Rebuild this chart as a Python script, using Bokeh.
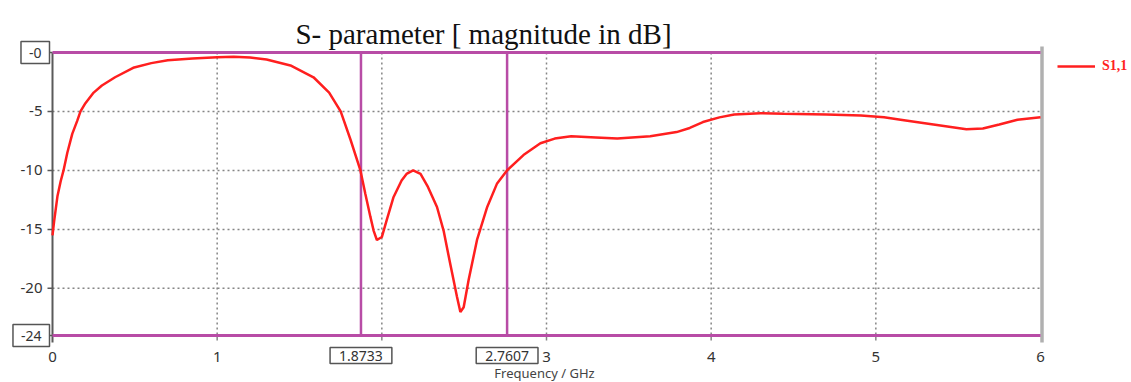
from bokeh.plotting import figure
from bokeh.models import Label, Legend, LegendItem, ColumnDataSource, Range1d
from bokeh.embed import file_html
from bokeh.resources import INLINE

# ---------------- data ----------------
freq = [0, 0.01, 0.03, 0.05, 0.067, 0.09, 0.12, 0.15, 0.17, 0.2, 0.25, 0.3, 0.38, 0.49,
        0.6, 0.7, 0.85, 1.0, 1.1, 1.2, 1.3, 1.445, 1.585, 1.68, 1.75, 1.81, 1.87, 1.90,
        1.93, 1.95, 1.97, 2.0, 2.03, 2.07, 2.12, 2.15, 2.19, 2.235, 2.28, 2.335, 2.375,
        2.415, 2.456, 2.477, 2.497, 2.527, 2.578, 2.64, 2.70, 2.76, 2.86, 2.963, 3.05,
        3.15, 3.3, 3.43, 3.63, 3.79, 3.87, 3.95, 4.05, 4.14, 4.3, 4.44, 4.7, 4.91, 5.05,
        5.15, 5.35, 5.55, 5.65, 5.75, 5.86, 6.0]
s11_db = [-15.5, -14.3, -12.2, -10.9, -10.0, -8.5, -6.9, -5.8, -5.0, -4.3, -3.4, -2.8,
          -2.1, -1.3, -0.9, -0.65, -0.5, -0.4, -0.35, -0.42, -0.6, -1.1, -2.1, -3.4,
          -5.0, -7.4, -10.0, -12.0, -13.9, -15.1, -15.9, -15.65, -14.2, -12.3, -10.85,
          -10.3, -10.0, -10.3, -11.4, -13.1, -15.1, -17.9, -20.7, -22.0, -21.6, -19.3,
          -15.9, -13.1, -11.1, -10.0, -8.7, -7.7, -7.3, -7.1, -7.2, -7.3, -7.1, -6.75,
          -6.4, -5.9, -5.5, -5.25, -5.15, -5.2, -5.25, -5.35, -5.5, -5.7, -6.1, -6.5,
          -6.45, -6.1, -5.7, -5.5]
marker_freqs = [1.8733, 2.7607]
marker_labels = ["1.8733", "2.7607"]
y_bounds = [0, -24]
y_bound_labels = ["-0", "-24"]
y_ticks = [-5, -10, -15, -20]
y_tick_labels = ["-5", "-10", "-15", "-20"]
x_ticks = [0, 1, 3, 4, 5, 6]
x_tick_labels = ["0", "1", "3", "4", "5", "6"]
grid_x = [1, 2, 3, 4, 5]
x_lim = [0, 6]
series_name = "S1,1"
title_text = "S- parameter [ magnitude in dB]"
x_title = "Frequency / GHz"

# ---------------- layout (pixels) ----------------
W, H = 1131, 382
PX_L, PX_R = 52, 1040      # pixel columns of x = 0 and x = 6
PY_T, PY_B = 52, 335       # pixel rows of y = 0 and y = -24
kx = (x_lim[1] - x_lim[0]) / (PX_R - PX_L)
ky = (y_bounds[0] - y_bounds[1]) / (PY_B - PY_T)

PURPLE = "#b84ca6"
RED = "#ff1f1f"
GRID = "#858585"
AXIS = "#5a5a5a"
TXT = "#333333"
TICK_FONT = "Noto Sans"

p = figure(width=W, height=H,
           x_range=Range1d(x_lim[0] - PX_L * kx, x_lim[1] + (W - PX_R) * kx),
           y_range=Range1d(y_bounds[1] - (H - PY_B) * ky, y_bounds[0] + PY_T * ky),
           x_axis_type=None, y_axis_type=None, min_border=0,
           output_backend="svg", toolbar_location=None)
p.outline_line_color = None
p.background_fill_color = "white"
p.border_fill_color = "white"
p.grid.visible = False

# grid (dotted)
p.segment(x0=grid_x, x1=grid_x, y0=[y_bounds[0]] * len(grid_x), y1=[y_bounds[1]] * len(grid_x),
          line_color=GRID, line_dash="2 3", line_width=1.5)
p.segment(x0=[x_lim[0]] * len(y_ticks), x1=[x_lim[1]] * len(y_ticks), y0=y_ticks, y1=y_ticks,
          line_color=GRID, line_dash="2 3", line_width=1.5)

# tick marks
all_y = y_bounds + y_ticks
p.segment(x0=[x_lim[0]] * len(all_y), x1=[x_lim[0] - 5 * kx] * len(all_y), y0=all_y, y1=all_y,
          line_color=AXIS, line_width=1.5)
xt = grid_x
p.segment(x0=xt, x1=xt, y0=[y_bounds[1]] * len(xt), y1=[y_bounds[1] - 5 * ky] * len(xt),
          line_color=GRID, line_width=1.5)

# left axis line and right border
p.segment(x0=[x_lim[0]], x1=[x_lim[0]], y0=[y_bounds[0]], y1=[y_bounds[1] - 7 * ky],
          line_color=AXIS, line_width=2)
p.segment(x0=[x_lim[1] + 1.5 * kx], x1=[x_lim[1] + 1.5 * kx],
          y0=[y_bounds[0] + 6 * ky], y1=[y_bounds[1] - 7 * ky],
          line_color="#b0b0b0", line_width=3.5)

# purple bounds and marker lines
p.segment(x0=[x_lim[0]] * 2, x1=[x_lim[1]] * 2, y0=y_bounds, y1=y_bounds,
          line_color=PURPLE, line_width=3)
p.segment(x0=marker_freqs, x1=marker_freqs, y0=[y_bounds[0]] * 2, y1=[y_bounds[1]] * 2,
          line_color=PURPLE, line_width=2.5)

# curve
src = ColumnDataSource(dict(f=freq, s=s11_db))
r = p.line("f", "s", source=src, line_color=RED, line_width=2.5)

# y tick labels
for t, lab in zip(y_ticks, y_tick_labels):
    p.add_layout(Label(x=x_lim[0], y=t, x_offset=-10, text=lab, text_align="right",
                       text_baseline="middle", text_font=TICK_FONT, text_font_size="15px",
                       text_color=TXT))
# boxed bound labels
for yb, lab in zip(y_bounds, y_bound_labels):
    p.add_layout(Label(x=x_lim[0], y=yb, x_offset=-3, text=lab, text_align="right",
                       text_baseline="middle", text_font=TICK_FONT, text_font_size="14px",
                       text_color=TXT, background_fill_color="white",
                       border_line_color="#555555", border_line_width=1.5,
                       padding=(8, 6)))
# x tick labels
for t, lab in zip(x_ticks, x_tick_labels):
    p.add_layout(Label(x=t, y=y_bounds[1], y_offset=-21, text=lab, text_align="center",
                       text_baseline="middle", text_font=TICK_FONT, text_font_size="15px",
                       text_color=TXT))
# boxed marker labels
for mf, lab in zip(marker_freqs, marker_labels):
    p.add_layout(Label(x=mf, y=y_bounds[1], y_offset=-20, text=lab, text_align="center",
                       text_baseline="middle", text_font=TICK_FONT, text_font_size="14px",
                       text_color=TXT, background_fill_color="white",
                       border_line_color="#555555", border_line_width=1.5,
                       padding=(9, 3)))

# title
p.add_layout(Label(x=483, y=H - 33, x_units="screen", y_units="screen", text=title_text,
                   text_align="center", text_baseline="alphabetic",
                   text_font="Liberation Serif", text_font_size="29px", text_color="#111111"))
# x axis title
p.add_layout(Label(x=544, y=10, x_units="screen", y_units="screen", text=x_title,
                   text_align="center", text_baseline="alphabetic",
                   text_font=TICK_FONT, text_font_size="13px", text_color="#444444"))

# legend
leg = Legend(items=[LegendItem(label=series_name, renderers=[r])],
             location=(1057, H - 66 - 8), padding=0, margin=0, spacing=0,
             glyph_width=38, glyph_height=16, label_height=16, label_standoff=7,
             border_line_color=None, background_fill_alpha=0,
             label_text_font="Liberation Serif", label_text_font_style="bold",
             label_text_font_size="14px", label_text_color=RED)
p.add_layout(leg, "center")

open("out.html", "w").write(file_html(p, INLINE))
